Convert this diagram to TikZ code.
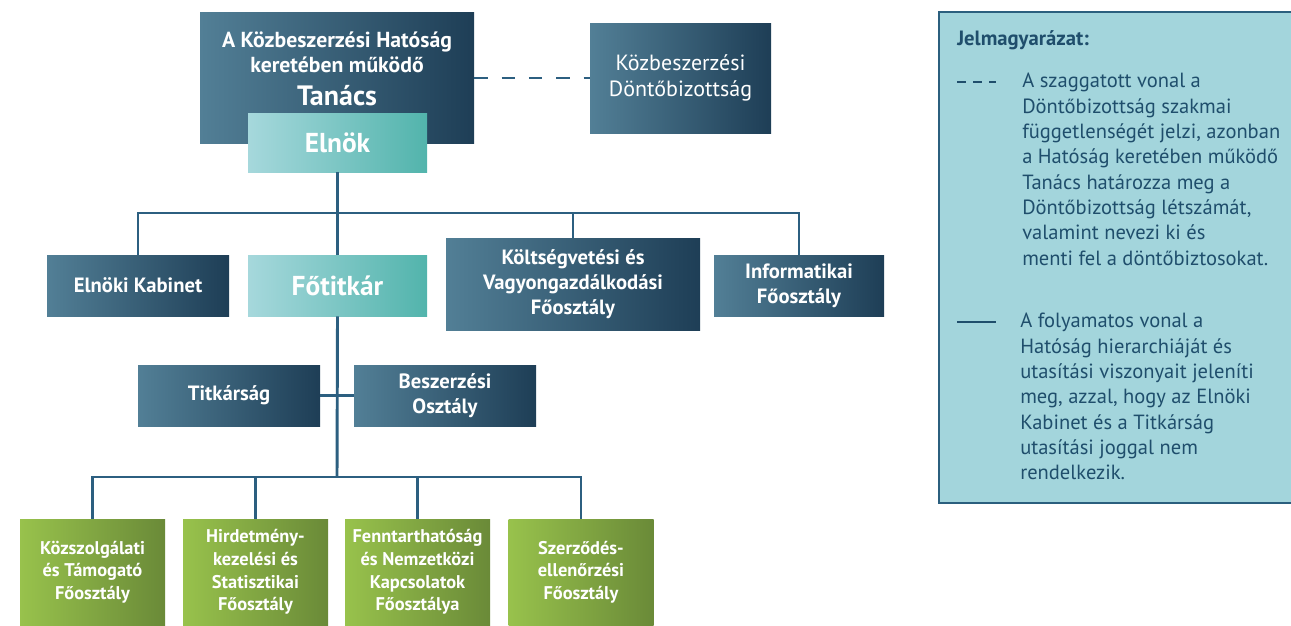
\documentclass[tikz,border=0pt]{standalone}
\usepackage{fontspec}
\setmainfont{PT Sans}
\definecolor{dkL}{RGB}{82,127,150}
\definecolor{dkR}{RGB}{30,62,86}
\definecolor{tlL}{RGB}{166,216,220}
\definecolor{tlR}{RGB}{82,180,172}
\definecolor{grL}{RGB}{152,194,76}
\definecolor{grR}{RGB}{106,138,56}
\definecolor{lnC}{RGB}{44,95,128}
\definecolor{lgFill}{RGB}{163,213,220}
\definecolor{lgLine}{RGB}{43,95,126}
\definecolor{lgText}{RGB}{31,78,108}
\tikzset{
    unit/.style={inner sep=0pt, align=center, text=white, font=\bfseries\fontsize{15.5}{19}\selectfont},
    darkbox/.style={unit, left color=dkL, right color=dkR},
    tealbox/.style={unit, left color=tlL, right color=tlR, font=\bfseries\fontsize{20.5}{22}\selectfont},
    greenbox/.style={unit, left color=grL, right color=grR, minimum width=108.75pt, minimum height=79.5pt, font=\bfseries\fontsize{13.8}{17}\selectfont},
    conn/.style={draw=lnC, line width=2.2pt},
    legtext/.style={anchor=north west, align=left, inner sep=0pt, text=lgText, font=\fontsize{15.4}{19}\selectfont}
}
\begin{document}
\begin{tikzpicture}[x=0.75pt, y=-0.75pt]
    \useasboundingbox (0,0) rectangle (1291,625);

    \node[darkbox, minimum width=205.5pt, minimum height=98.25pt] (tanacs) at (337,77.5) {};
    \node[unit, font=\bfseries\fontsize{16.3}{19}\selectfont] (tanacstxt) at (337,68.5) {A Közbeszerzési Hatóság\\keretében működő\\[5.5pt]{\fontsize{21}{19}\selectfont Tanács}};
    \node[tealbox, minimum width=134.25pt, minimum height=44.25pt] (elnok) at (337.5,142.5) {Elnök};
    \node[darkbox, minimum width=135.75pt, minimum height=82.5pt, font=\fontsize{16.5}{19}\selectfont] (dontobiz) at (680.5,78) {Közbeszerzési\\Döntőbizottság};

    \node[darkbox, minimum width=136.5pt, minimum height=45.75pt] (kabinet) at (138,285.5) {Elnöki Kabinet};
    \node[tealbox, minimum width=134.25pt, minimum height=45.75pt] (fotitkar) at (337.5,285.5) {Főtitkár};
    \node[darkbox, minimum width=190.5pt, minimum height=69pt] (koltseg) at (573,284) {Költségvetési és\\Vagyongazdálkodási\\Főosztály};
    \node[darkbox, minimum width=127.5pt, minimum height=45.75pt] (infor) at (799,285.5) {Informatikai\\Főosztály};

    \node[darkbox, minimum width=136.5pt, minimum height=45.75pt] (titkar) at (229,395.5) {Titkárság};
    \node[darkbox, minimum width=136.5pt, minimum height=45.75pt] (beszerz) at (445,395.5) {Beszerzési\\Osztály};

    \node[greenbox] (kozszolg) at (92.5,572) {Közszolgálati\\és Támogató\\Főosztály};
    \node[greenbox] (hirdet) at (255.5,572) {Hirdetmény-\\kezelési és\\Statisztikai\\Főosztály};
    \node[greenbox] (fennt) at (417.5,572) {Fenntarthatóság\\és Nemzetközi\\Kapcsolatok\\Főosztálya};
    \node[greenbox] (szerz) at (581,572) {Szerződés-\\ellenőrzési\\Főosztály};

    \coordinate (bus1) at (337,213);
    \coordinate (bus2) at (337,477);

    \draw[conn, dash pattern=on 10pt off 10.5pt] (tanacs.east |- dontobiz.west) -- (dontobiz.west);
    \draw[conn] (elnok.south) -- (fotitkar.north);
    \draw[conn] (kabinet.north) -- (kabinet.north |- bus1) -- (infor.north |- bus1) -- (infor.north);
    \draw[conn] (koltseg.north) -- (koltseg.north |- bus1);
    \draw[conn] (fotitkar.south) -- (bus2);
    \draw[conn] (titkar.east) -- (beszerz.west);
    \draw[conn] (kozszolg.north) -- (kozszolg.north |- bus2) -- (szerz.north |- bus2) -- (szerz.north);
    \draw[conn] (hirdet.north) -- (hirdet.north |- bus2);
    \draw[conn] (fennt.north) -- (fennt.north |- bus2);

    \draw[draw=lgLine, fill=lgFill, line width=2.2pt] (939,12) rectangle (1300,503);
    \node[anchor=west, inner sep=0pt, text=lgText, font=\bfseries\fontsize{15.5}{16}\selectfont] (legcim) at (957,40) {Jelmagyarázat:};
    \draw[draw=lgText, line width=1.6pt, dash pattern=on 7pt off 5pt] (957,82) -- (996,82);
    \node[legtext] (legdash) at (1022,73) {A szaggatott vonal a\\Döntőbizottság szakmai\\függetlenségét jelzi, azonban\\a Hatóság keretében működő\\Tanács határozza meg a\\Döntőbizottság létszámát,\\valamint nevezi ki és\\menti fel a döntőbiztosokat.};
    \draw[draw=lgText, line width=1.6pt] (957,322) -- (996,322);
    \node[legtext] (legsolid) at (1020,313) {A folyamatos vonal a\\Hatóság hierarchiáját és\\utasítási viszonyait jeleníti\\meg, azzal, hogy az Elnöki\\Kabinet és a Titkárság\\utasítási joggal nem\\rendelkezik.};
\end{tikzpicture}
\end{document}
